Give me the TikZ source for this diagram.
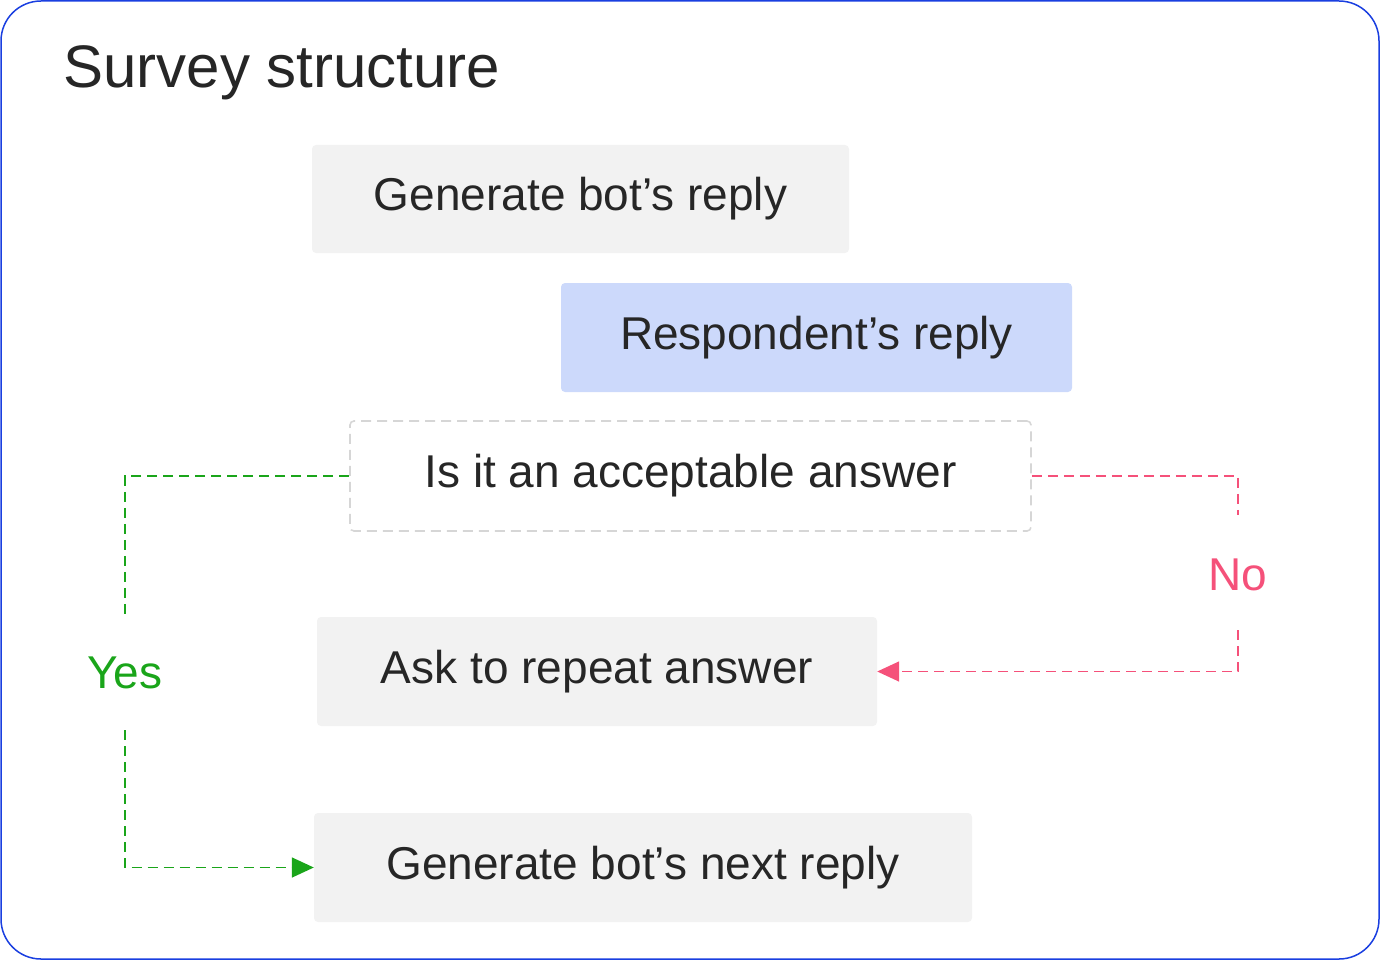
\documentclass[tikz,border=0pt]{standalone}
\usepackage{fontspec}
\setmainfont{Liberation Sans}
\usetikzlibrary{arrows.meta}
\definecolor{boxgray}{HTML}{F2F2F2}
\definecolor{boxblue}{HTML}{CCD9FB}
\definecolor{frameblue}{HTML}{1A3FE0}
\definecolor{yesgreen}{HTML}{1AA51A}
\definecolor{nopink}{HTML}{F5517A}
\definecolor{dashgray}{HTML}{D6D6D6}
\begin{document}
\begin{tikzpicture}[x=1pt,y=-1pt,
  stepbox/.style={rounded corners=4pt,inner sep=0pt,font=\fontsize{46}{50}\selectfont,text=black!85},
  yesline/.style={yesgreen,dash pattern=on 10pt off 6pt,line width=1.6pt},
  noline/.style={nopink,dash pattern=on 10pt off 6pt,line width=1.6pt}]
\useasboundingbox (0,0) rectangle (1380,960);
\draw[frameblue,line width=1.5pt,rounded corners=40pt] (1,1) rectangle (1379,959);
\node[anchor=west,font=\fontsize{60}{66}\selectfont,text=black!85] (title) at (60,73) {Survey structure};
\node[stepbox,fill=boxgray,minimum width=537pt,minimum height=108pt] (gen) at (580.5,199) {Generate bot’s reply};
\node[stepbox,fill=boxblue,minimum width=511pt,minimum height=109pt] (resp) at (816.5,337.5) {Respondent’s reply};
\node[stepbox,draw=dashgray,line width=1.6pt,dash pattern=on 10pt off 6pt,minimum width=681pt,minimum height=110pt] (acc) at (690.5,476) {Is it an acceptable answer};
\node[stepbox,fill=boxgray,minimum width=560pt,minimum height=109pt] (ask) at (597,671.5) {Ask to repeat answer};
\node[stepbox,fill=boxgray,minimum width=658pt,minimum height=109pt] (next) at (643,867.5) {Generate bot’s next reply};
\node[font=\fontsize{46}{50}\selectfont,text=yesgreen] (yes) at (125,673) {Yes};
\node[font=\fontsize{46}{50}\selectfont,text=nopink] (no) at (1238,575) {No};
\coordinate (y1) at (125,615);
\coordinate (y2) at (125,730);
\coordinate (n1) at (1238,515);
\coordinate (n2) at (1238,630);
\draw[yesline] (acc.west) -| (y1);
\draw[yesline,-{Triangle[length=22pt,width=20pt]}] (y2) |- (next.west);
\draw[noline] (acc.east) -| (n1);
\draw[noline,-{Triangle[length=22pt,width=20pt]}] (n2) |- (ask.east);
\end{tikzpicture}
\end{document}
